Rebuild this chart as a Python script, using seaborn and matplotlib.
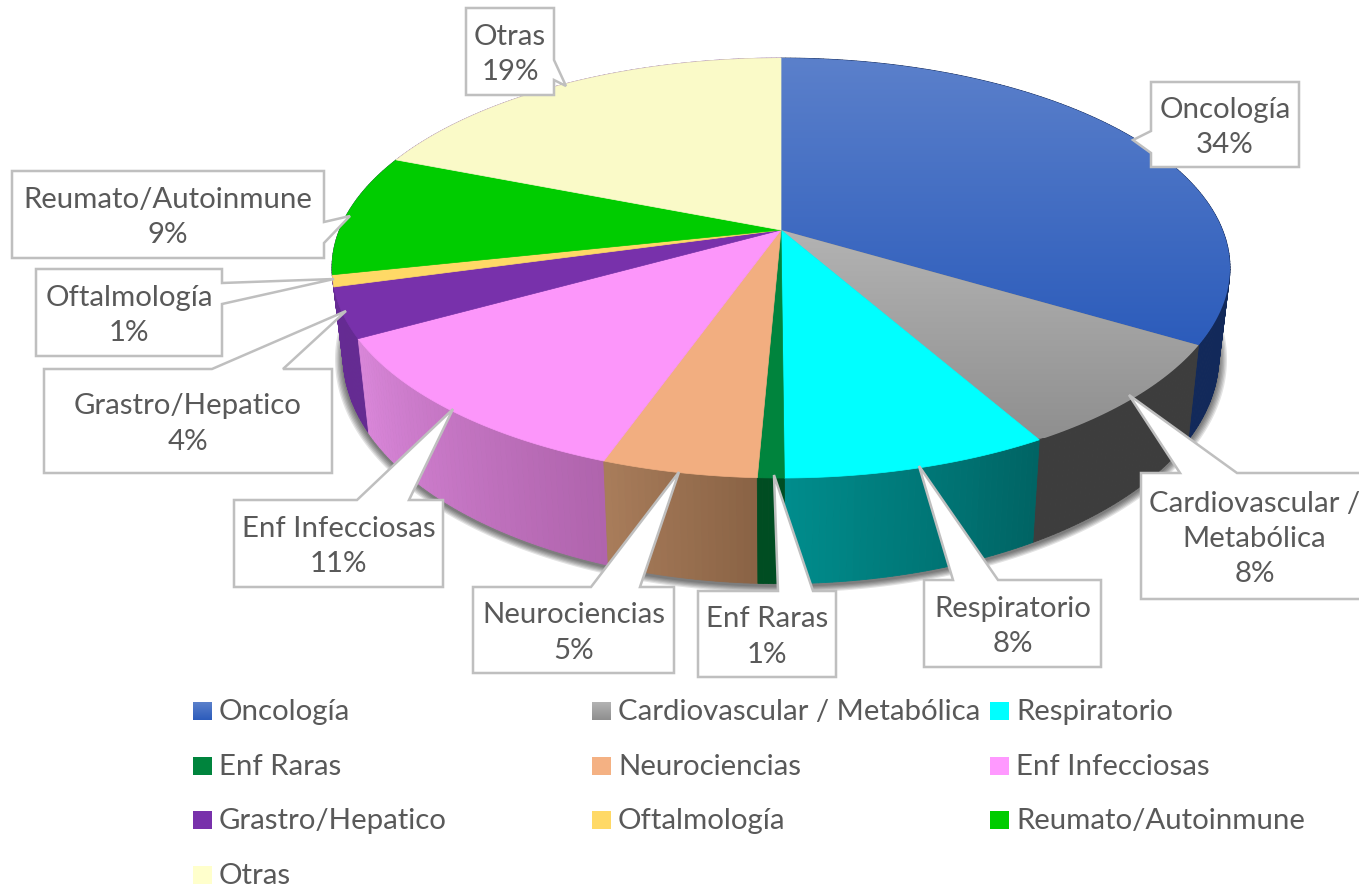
import numpy as np
import matplotlib
matplotlib.use('Agg')
import matplotlib.pyplot as plt
import seaborn as sns
from matplotlib.patches import Polygon

# datos de la grafica
names = ['Oncología', 'Cardiovascular / Metabólica', 'Respiratorio', 'Enf Raras', 'Neurociencias',
         'Enf Infecciosas', 'Grastro/Hepatico', 'Oftalmología', 'Reumato/Autoinmune', 'Otras']
label_names = ['Oncología', 'Cardiovascular /\nMetabólica', 'Respiratorio', 'Enf Raras', 'Neurociencias',
               'Enf Infecciosas', 'Grastro/Hepatico', 'Oftalmología', 'Reumato/Autoinmune', 'Otras']
values = [33.6, 8.2, 8.1, 0.8, 4.7, 11.49, 3.81, 0.9, 9.4, 19.0]

top_colors = ['#3f6cc4', '#a0a0a0', '#00ffff', '#00843d', '#f2ae80',
              '#fc96fa', '#7831ab', '#ffd966', '#00cc00', '#fafac8']
legend_colors = ['#3f6cc4', '#a0a0a0', '#00ffff', '#00843d', '#f4b183',
                 '#ff99ff', '#7831ab', '#ffd966', '#00cc00', '#ffffcc']
wall_left = ['#12295a', '#3d3d3d', '#008c8c', '#004d22', '#a87c5a',
             '#d986d9', '#652b93', '#652b93', '#652b93', '#652b93']
wall_right = ['#12295a', '#3d3d3d', '#006464', '#004d22', '#8a6345',
              '#b064ad', '#652b93', '#652b93', '#652b93', '#652b93']
wall_order = [9, 8, 7, 6, 5, 4, 0, 1, 2, 3]

# cajas de las etiquetas: izquierda, arriba, derecha, abajo
boxes = [(1151, 82, 1299, 167), (1141, 473, 1368, 599), (924, 580, 1101, 667), (698, 591, 836, 677),
         (473, 587, 674, 673), (234, 500, 443, 587), (44, 369, 332, 473), (36, 269, 222, 356),
         (12, 171, 324, 258), (466, 8, 554, 95)]
# flecha de cada etiqueta: lado, inicio, punta, fin
pointers = [('l', 131, (1133, 140), 153), ('t', 1180, (1129, 395), 1237), ('t', 953, (919, 466), 998),
            ('t', 778, (774, 475), 813), ('t', 591, (679, 472), 640), ('t', 357, (453, 409), 409),
            ('t', 212, (346, 311), 283), ('r', 283, (334, 279), 304), ('r', 222, (350, 216), 243),
            ('r', 60, (566, 86), 80)]

sns.set_theme(style='white')
plt.rcParams['font.family'] = ['Lato', 'DejaVu Sans']
text_color = '#595959'
font_size = 21.2

fig = plt.figure(figsize=(13.59, 8.90), dpi=100)
ax = fig.add_axes([0, 0, 1, 1])


# circulo a elipse con perspectiva
def rim(pct):
    t = np.asarray(pct) / 100 * 2 * np.pi
    u, v = np.sin(t), np.cos(t)
    den = 0.181 * v + 1
    return 781 + 441.6 * u / den, (230 - 161.5 * v) / den


def low(x, y):
    return 781 + (x - 781) * 0.975, 1.08 * y + 67.4


def grad_fill(poly, c0, c1, y0, y1, z):
    cmap = sns.blend_palette([c0, c1], as_cmap=True)
    img = ax.imshow(np.linspace(0, 1, 256).reshape(-1, 1), cmap=cmap, aspect='auto',
                    extent=(min(p[0] for p in poly), max(p[0] for p in poly), y1, y0), zorder=z)
    patch = Polygon(poly, closed=True, transform=ax.transData, fc='none', ec='none')
    ax.add_patch(patch)
    img.set_clip_path(patch)


edges = np.concatenate([[0], np.cumsum(values)])

# sombra
ring = np.linspace(0, 100, 400)
rx, ry = rim(ring)
lx, ly = low(rx, ry)
lcx, lcy = lx.mean(), ly.mean()
for k in range(6, 0, -1):
    sx = lcx + (lx - lcx) * (1 + k / 320)
    sy = lcy + (ly - lcy) * (1 + k / 210) + 2
    ax.fill(sx, sy, color='black', alpha=0.11, lw=0, zorder=1)

# paredes
for i in wall_order:
    pcts = np.linspace(edges[i], edges[i + 1], max(int(values[i] * 5), 6))
    x, y = rim(pcts)
    xl, yl = low(x, y)
    # el degradado va de izquierda a derecha en la imagen
    cols = sns.blend_palette([wall_right[i], wall_left[i]], n_colors=len(pcts) - 1)
    for j in range(len(pcts) - 1):
        ax.fill([x[j], x[j + 1], xl[j + 1], xl[j]], [y[j], y[j + 1], yl[j + 1], yl[j]],
                color=cols[j], lw=0.6, zorder=2)

# cara superior
for i in range(len(values)):
    pcts = np.linspace(edges[i], edges[i + 1], max(int(values[i] * 8), 6))
    x, y = rim(pcts)
    poly = [(781, 230)] + list(zip(x, y))
    if i == 0:
        grad_fill(poly, '#5b80cb', '#2c5cbb', 58, 345, 3)
    elif i == 1:
        grad_fill(poly, '#b3b3b3', '#8f8f8f', 230, 438, 3)
    else:
        ax.fill(*zip(*poly), color=top_colors[i], lw=0.5, zorder=3)

# etiquetas
for name, val, box, ptr in zip(label_names, values, boxes, pointers):
    left, top, right, bottom = box
    side, a, tip, b = ptr
    if side == 't':
        pts = [(left, top), (a, top), tip, (b, top), (right, top), (right, bottom), (left, bottom)]
    elif side == 'r':
        pts = [(left, top), (right, top), (right, a), tip, (right, b), (right, bottom), (left, bottom)]
    else:
        pts = [(left, top), (right, top), (right, bottom), (left, bottom), (left, b), tip, (left, a)]
    ax.add_patch(Polygon(pts, closed=True, fc='white', ec='#bfbfbf', lw=1.8, zorder=5))
    ax.text((left + right) / 2, (top + bottom) / 2 + 3, f'{name}\n{val:.0f}%', ha='center', va='center',
            fontsize=font_size, color=text_color, linespacing=1.45, zorder=6)

# leyenda
leg_x = [193, 592, 990]
leg_y = [711, 766, 820, 875]
for i, name in enumerate(names):
    x0 = leg_x[i % 3]
    y0 = leg_y[i // 3]
    square = [(x0, y0 - 9), (x0 + 19, y0 - 9), (x0 + 19, y0 + 9), (x0, y0 + 9)]
    if i == 0:
        grad_fill(square, '#5b80cb', '#2c5cbb', y0 - 9, y0 + 9, 3)
    elif i == 1:
        grad_fill(square, '#b3b3b3', '#8f8f8f', y0 - 9, y0 + 9, 3)
    else:
        ax.add_patch(Polygon(square, closed=True, fc=legend_colors[i], ec='none', zorder=3))
    ax.text(x0 + 26, y0 + 1, name, ha='left', va='center', fontsize=font_size, color=text_color, zorder=6)

ax.set_xlim(0, 1359)
ax.set_ylim(890, 0)
ax.axis('off')
fig.savefig('out.png', dpi=100, facecolor='white')
